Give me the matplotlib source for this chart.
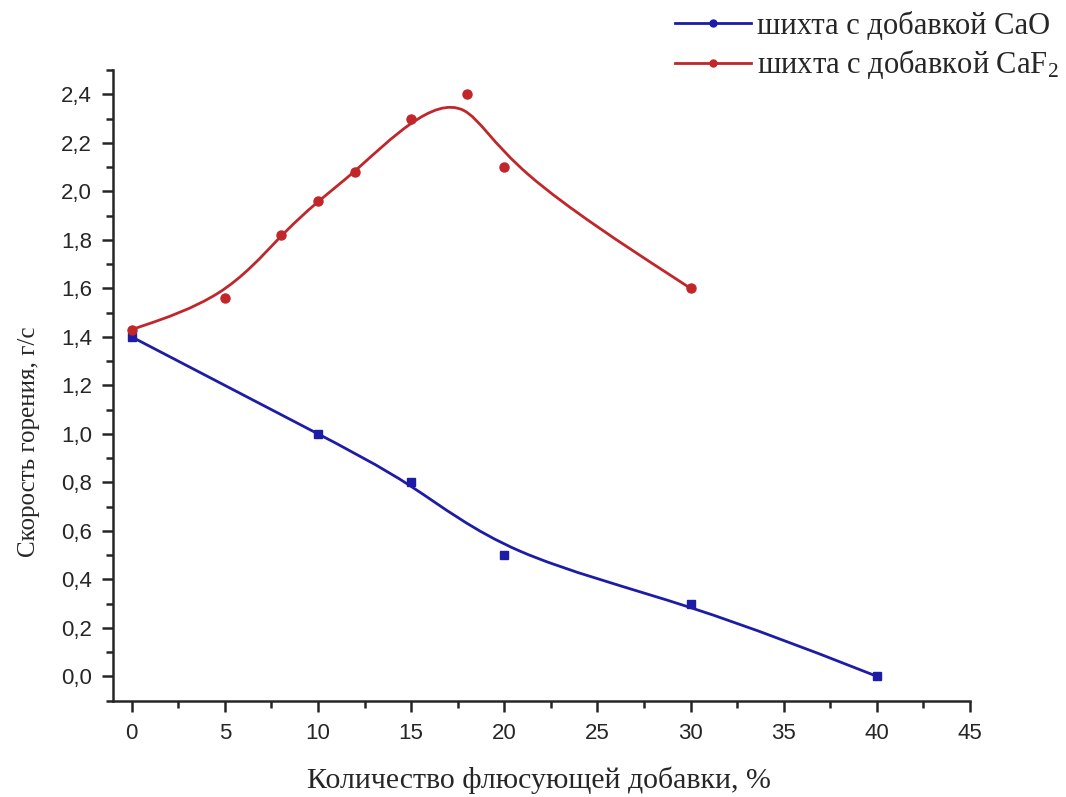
import matplotlib.pyplot as plt
from matplotlib.path import Path
from matplotlib.patches import PathPatch
from matplotlib.lines import Line2D
from matplotlib.ticker import MultipleLocator, FuncFormatter

plt.rcParams['mathtext.fontset'] = 'custom'
plt.rcParams['mathtext.rm'] = 'Liberation Serif'
plt.rcParams['mathtext.it'] = 'Liberation Serif'
plt.rcParams['mathtext.default'] = 'rm'

# data
x_cao = [0, 10, 15, 20, 30, 40]
y_cao = [1.40, 1.00, 0.80, 0.50, 0.30, 0.00]

x_caf2 = [0, 5, 8, 10, 12, 15, 18, 20, 30]
y_caf2 = [1.43, 1.56, 1.82, 1.96, 2.08, 2.30, 2.40, 2.10, 1.60]

label_cao = "шихта с добавкой CaO"
label_caf2 = "шихта с добавкой CaF$_2$"
xlabel = "Количество флюсующей добавки, %"
ylabel = "Скорость горения, г/с"

blue = "#1c1ca6"
red = "#c0262a"
ink = "#262626"


def bspline_path(xs, ys):
    # cubic B-spline with the data points as control points (Origin style),
    # ends clamped by repeating the first/last point, drawn as bezier segments
    p = list(zip(xs, ys))
    p = [p[0], p[0]] + p + [p[-1], p[-1]]
    verts, codes = [], []
    for i in range(1, len(p) - 2):
        a, b, c, d = p[i - 1], p[i], p[i + 1], p[i + 2]
        b0 = ((a[0] + 4 * b[0] + c[0]) / 6, (a[1] + 4 * b[1] + c[1]) / 6)
        b1 = ((2 * b[0] + c[0]) / 3, (2 * b[1] + c[1]) / 3)
        b2 = ((b[0] + 2 * c[0]) / 3, (b[1] + 2 * c[1]) / 3)
        b3 = ((b[0] + 4 * c[0] + d[0]) / 6, (b[1] + 4 * c[1] + d[1]) / 6)
        if not verts:
            verts.append(b0)
            codes.append(Path.MOVETO)
        verts += [b1, b2, b3]
        codes += [Path.CURVE4] * 3
    return Path(verts, codes)


fig = plt.figure(figsize=(10.66, 7.97), dpi=100)
ax = fig.add_axes([0.106, 0.121, 0.804, 0.791])

ax.add_patch(PathPatch(bspline_path(x_cao, y_cao), fill=False, edgecolor=blue, lw=2.0))
ax.add_patch(PathPatch(bspline_path(x_caf2, y_caf2), fill=False, edgecolor=red, lw=2.0))
ax.plot(x_cao, y_cao, ls='none', marker='s', ms=6, color=blue)
ax.plot(x_caf2, y_caf2, ls='none', marker='o', ms=6.5, color=red)

ax.set_xlim(-1, 45)
ax.set_ylim(-0.1, 2.5)
ax.xaxis.set_major_locator(MultipleLocator(5))
ax.xaxis.set_minor_locator(MultipleLocator(2.5))
ax.yaxis.set_major_locator(MultipleLocator(0.2))
ax.yaxis.set_minor_locator(MultipleLocator(0.1))
ax.yaxis.set_major_formatter(FuncFormatter(lambda v, p: f"{v:.1f}".replace('.', ',')))

for s in ['top', 'right']:
    ax.spines[s].set_visible(False)
for s in ['left', 'bottom']:
    ax.spines[s].set_linewidth(1.8)
    ax.spines[s].set_color(ink)

ax.tick_params(which='major', direction='out', length=8, width=1.8, color=ink,
               labelsize=16, labelcolor=ink)
ax.tick_params(axis='x', which='major', pad=8)
ax.tick_params(axis='y', which='major', pad=7)
ax.tick_params(which='minor', direction='out', length=5, width=1.8, color=ink)
for lab in ax.get_xticklabels() + ax.get_yticklabels():
    lab.set_fontfamily('Liberation Sans')

ax.set_xlabel(xlabel, fontfamily='Liberation Serif', fontsize=21.5, color=ink)
ax.set_ylabel(ylabel, fontfamily='Liberation Serif', fontsize=18, color=ink)
ax.xaxis.set_label_coords(0.497, -0.104)
ax.yaxis.set_label_coords(-0.085, 0.41)

handles = [Line2D([], [], color=blue, lw=2.0, marker='o', ms=5),
           Line2D([], [], color=red, lw=2.0, marker='o', ms=5)]
fig.legend(handles, [label_cao, label_caf2], loc='upper left', bbox_to_anchor=(0.607, 1.02),
           frameon=False, handlelength=2.5, handletextpad=0.2, labelspacing=0.25,
           prop={'family': 'Liberation Serif', 'size': 22}, labelcolor=ink)

fig.savefig('out.png', dpi=100)
